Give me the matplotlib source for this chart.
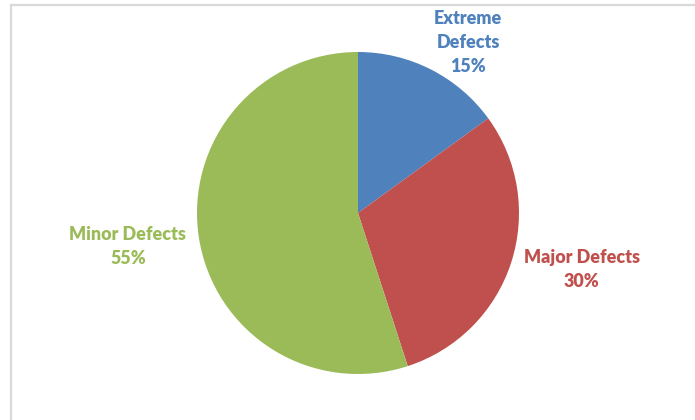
import matplotlib
matplotlib.use("Agg")
import matplotlib.pyplot as plt
from matplotlib.lines import Line2D

categories = ["Extreme\nDefects", "Major Defects", "Minor Defects"]
values = [15, 30, 55]
colors = ["#4F81BD", "#C0504D", "#9BBB59"]
label_pos = [(0.683, 1.056), (1.391, -0.354), (-1.429, -0.205)]

W, H = 695, 420
fig = plt.figure(figsize=(W / 100, H / 100), dpi=100)
fig.patch.set_facecolor("white")

cx, cy, r = 358, 213, 161
ax = fig.add_axes([(cx - r) / W, (H - cy - r) / H, 2 * r / W, 2 * r / H])
ax.pie(values, colors=colors, startangle=90, counterclock=False, radius=1,
       wedgeprops=dict(linewidth=0))
ax.set_xlim(-1, 1)
ax.set_ylim(-1, 1)
ax.set_aspect("equal")
ax.axis("off")

for cat, v, c, (x, y) in zip(categories, values, colors, label_pos):
    ax.text(x, y, f"{cat}\n{v}%", ha="center", va="center", color=c,
            fontsize=12.9, fontweight="heavy", family="Lato", linespacing=1.5,
            clip_on=False)

# frame lines (top and left)
fig.add_artist(Line2D([10.5 / W, 1], [1 - 4.5 / H, 1 - 4.5 / H], color="#d9d9d9",
                      lw=1.6, transform=fig.transFigure))
fig.add_artist(Line2D([10.5 / W, 10.5 / W], [0, 1 - 4.5 / H], color="#d9d9d9",
                      lw=1.6, transform=fig.transFigure))

fig.savefig("out.png", dpi=100)
